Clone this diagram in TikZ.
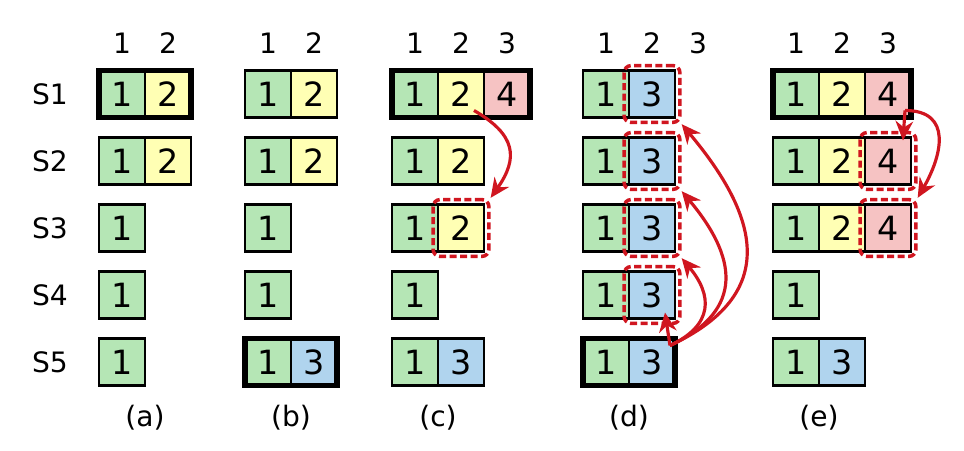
\documentclass[tikz,border=0pt]{standalone}
\usepackage{fontspec}
\setmainfont{DejaVu Sans}
\usetikzlibrary{positioning,
                fit,
                arrows.meta}

\definecolor{term1col}{RGB}{181,230,181}
\definecolor{term2col}{RGB}{255,255,180}
\definecolor{term3col}{RGB}{176,212,238}
\definecolor{term4col}{RGB}{246,195,195}
\definecolor{pushred}{RGB}{208,22,32}

\tikzset{
  entry/.style={draw, line width=1.4pt, outer sep=0pt, inner sep=0pt,
                minimum width=0.92cm, minimum height=0.94cm,
                font=\fontsize{19}{19}\selectfont},
  term1/.style={entry, fill=term1col},
  term2/.style={entry, fill=term2col},
  term3/.style={entry, fill=term3col},
  term4/.style={entry, fill=term4col},
  idx/.style={inner sep=0pt, font=\fontsize{16}{16}\selectfont},
  leader/.style={line width=3.4pt},
  pick/.style={draw=pushred, line width=2pt, dash pattern=on 4pt off 2pt,
               rounded corners=4pt, inner sep=2.8pt},
  push/.style={draw=pushred, line width=1.8pt,
               -{Stealth[length=11pt, width=10pt]}}
}

\begin{document}
\begin{tikzpicture}[x=0.02cm, y=0.02cm]
    \useasboundingbox (0,0) rectangle (964,450);
      % server names
      \foreach \r in {1,...,5}
        \node[idx] (s\r) at (50, 423-67*\r) {S\r};
      % index headers, first entries and captions
      \foreach \p/\x/\n in {a/99/2, b/245/2, c/392/3, d/583/3, e/773/3} {
        \foreach \k in {1,...,\n}
          \node[idx] (\p h\k) at (\x-23+46*\k, 407) {\k};
        \foreach \r in {1,...,5}
          \node[term1] (\p\r1) at (\x+23, 423-67*\r) {1};
        \node[idx] (\p cap) at (\x+46, 32) {(\p)};
      }
      % (a)
      \node[term2, right=0pt of a11] (a12) {2};
      \node[term2, right=0pt of a21] (a22) {2};
      % (b)
      \node[term2, right=0pt of b11] (b12) {2};
      \node[term2, right=0pt of b21] (b22) {2};
      \node[term3, right=0pt of b51] (b52) {3};
      % (c)
      \node[term2, right=0pt of c11] (c12) {2};
      \node[term4, right=0pt of c12] (c13) {4};
      \node[term2, right=0pt of c21] (c22) {2};
      \node[term2, right=0pt of c31] (c32) {2};
      \node[term3, right=0pt of c51] (c52) {3};
      % (d)
      \foreach \r in {1,...,5}
        \node[term3, right=0pt of d\r1] (d\r2) {3};
      % (e)
      \foreach \r in {1,2,3} {
        \node[term2, right=0pt of e\r1] (e\r2) {2};
        \node[term4, right=0pt of e\r2] (e\r3) {4};
      }
      \node[term3, right=0pt of e51] (e52) {3};
      % leaders
      \draw[leader] (a11.north west) rectangle (a12.south east);
      \draw[leader] (b51.north west) rectangle (b52.south east);
      \draw[leader] (c11.north west) rectangle (c13.south east);
      \draw[leader] (d51.north west) rectangle (d52.south east);
      \draw[leader] (e11.north west) rectangle (e13.south east);
      % replicated entries
      \node[pick, fit=(c32)] (c32sel) {};
      \foreach \r in {1,...,4}
        \node[pick, fit=(d\r2)] (d\r2sel) {};
      \foreach \r in {2,3}
        \node[pick, fit=(e\r3)] (e\r3sel) {};
      % (c) arrow
      \coordinate (csrc) at ([shift={(-10,7)}]c12.south east);
      \draw[push] (csrc) to[out=-30, in=55, looseness=1.4] (c32sel.north east);
      % (d) arrows
      \coordinate (dsrc) at ([shift={(-5,-7)}]d52.north east);
      \draw[push] (dsrc) -- ([shift={(-10,6)}]d42.south east);
      \draw[push] (dsrc) to[out=25, in=-50, looseness=1.4] (d32sel.south east);
      \draw[push] (dsrc) to[out=25, in=-50, looseness=1.4] (d22sel.south east);
      \draw[push] (dsrc) to[out=25, in=-50, looseness=1.4] (d12sel.south east);
      % (e) arrows
      \coordinate (esrc) at ([shift={(-6,7)}]e13.south east);
      \draw[push] (esrc) -- ([shift={(-8,-3)}]e23.north east);
      \draw[push] (esrc) to[out=0, in=60, looseness=1.4] (e33sel.north east);
\end{tikzpicture}
\end{document}
